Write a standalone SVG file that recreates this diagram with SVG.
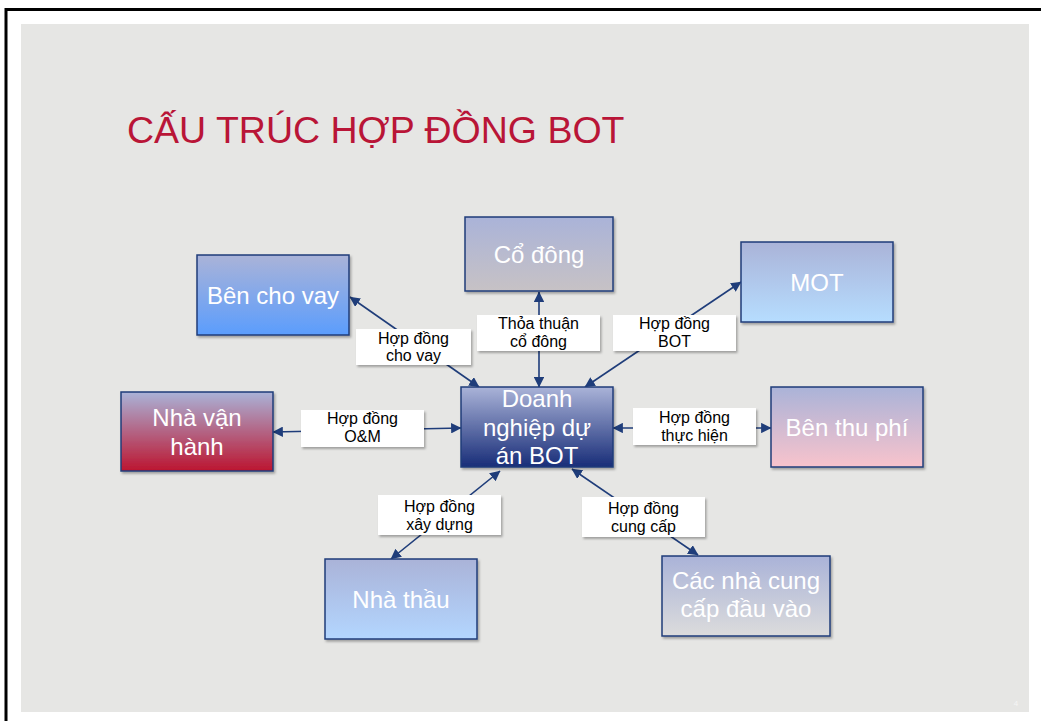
<svg xmlns="http://www.w3.org/2000/svg" width="1041" height="721" viewBox="0 0 1041 721">
  <defs>
    <style>
      .box { stroke: #1f3d7a; stroke-width: 1.5; filter: url(#shadow); }
      .ntext { font-family: "Liberation Sans", Arial, sans-serif; font-size: 24px; fill: #ffffff; text-anchor: middle; }
      .lbl { fill: #ffffff; filter: url(#shadow); }
      .ltext { font-family: "Liberation Sans", Arial, sans-serif; font-size: 16px; fill: #000000; text-anchor: middle; }
      .conn { stroke: #1f3d7a; stroke-width: 1.6; fill: none; marker-start: url(#arr); marker-end: url(#arr); }
    </style>
    <filter id="shadow" x="-10%" y="-10%" width="130%" height="140%">
      <feDropShadow dx="1.5" dy="2" stdDeviation="1" flood-color="#000" flood-opacity="0.3"/>
    </filter>
    <marker id="arr" viewBox="0 0 10 10" refX="9.5" refY="5" markerWidth="6.5" markerHeight="6.5" orient="auto-start-reverse" markerUnits="strokeWidth">
      <path d="M0,0 L10,5 L0,10 Z" fill="#1f3d7a"/>
    </marker>
    <linearGradient id="gLender" x1="0" y1="0" x2="0" y2="1">
      <stop offset="0" stop-color="#aab3d8"/><stop offset="1" stop-color="#5b9dfd"/>
    </linearGradient>
    <linearGradient id="gShare" x1="0" y1="0" x2="0" y2="1">
      <stop offset="0" stop-color="#aab3d8"/><stop offset="1" stop-color="#c7c2c5"/>
    </linearGradient>
    <linearGradient id="gMot" x1="0" y1="0" x2="0" y2="1">
      <stop offset="0" stop-color="#aab3d8"/><stop offset="1" stop-color="#b6ddff"/>
    </linearGradient>
    <linearGradient id="gOper" x1="0" y1="0" x2="0" y2="1">
      <stop offset="0" stop-color="#aab3d8"/><stop offset="1" stop-color="#bc1530"/>
    </linearGradient>
    <linearGradient id="gCore" x1="0" y1="0" x2="0" y2="1">
      <stop offset="0" stop-color="#aab3d8"/><stop offset="1" stop-color="#182d78"/>
    </linearGradient>
    <linearGradient id="gToll" x1="0" y1="0" x2="0" y2="1">
      <stop offset="0" stop-color="#aab3d8"/><stop offset="1" stop-color="#f8c3cc"/>
    </linearGradient>
    <linearGradient id="gContr" x1="0" y1="0" x2="0" y2="1">
      <stop offset="0" stop-color="#aab3d8"/><stop offset="1" stop-color="#b3d6ff"/>
    </linearGradient>
    <linearGradient id="gSupp" x1="0" y1="0" x2="0" y2="1">
      <stop offset="0" stop-color="#aab3d8"/><stop offset="1" stop-color="#dcdcdc"/>
    </linearGradient>
  </defs>

  <!-- page and frame -->
  <rect x="0" y="0" width="1041" height="721" fill="#ffffff"/>
  <rect x="21" y="24" width="1008" height="688" fill="#e6e6e4"/>
  <path d="M6,721 L6,9.5 L1041,9.5" fill="none" stroke="#000000" stroke-width="3"/>

  <text x="127" y="143" font-family="Liberation Sans, Arial, sans-serif" font-size="37.5" fill="#b91537">CẤU TRÚC HỢP ĐỒNG BOT</text>

  <!-- connectors -->
  <g id="connectors">
    <line class="conn" x1="479" y1="387" x2="350" y2="297"/>
    <line class="conn" x1="539" y1="387" x2="539" y2="292"/>
    <line class="conn" x1="585" y1="387" x2="741" y2="282"/>
    <line class="conn" x1="461" y1="428" x2="273" y2="432"/>
    <line class="conn" x1="613" y1="428" x2="771" y2="428"/>
    <line class="conn" x1="500" y1="471" x2="391" y2="559"/>
    <line class="conn" x1="572" y1="469" x2="698" y2="555"/>
  </g>

  <!-- connector labels -->
  <g id="label-loan">
    <rect class="lbl" x="356" y="329" width="115" height="36"/>
    <text class="ltext" x="413.5" y="344">Hợp đồng</text>
    <text class="ltext" x="413.5" y="361">cho vay</text>
  </g>
  <g id="label-shareholder">
    <rect class="lbl" x="477" y="315" width="123" height="36"/>
    <text class="ltext" x="538.5" y="329">Thỏa thuận</text>
    <text class="ltext" x="538.5" y="347">cổ đông</text>
  </g>
  <g id="label-bot">
    <rect class="lbl" x="613" y="315" width="123" height="36"/>
    <text class="ltext" x="674.5" y="329">Hợp đồng</text>
    <text class="ltext" x="674.5" y="347">BOT</text>
  </g>
  <g id="label-om">
    <rect class="lbl" x="301" y="410" width="123" height="37"/>
    <text class="ltext" x="362.5" y="424">Hợp đồng</text>
    <text class="ltext" x="362.5" y="442">O&amp;M</text>
  </g>
  <g id="label-perform">
    <rect class="lbl" x="633" y="408" width="123" height="37"/>
    <text class="ltext" x="694.5" y="423">Hợp đồng</text>
    <text class="ltext" x="694.5" y="441">thực hiện</text>
  </g>
  <g id="label-build">
    <rect class="lbl" x="378" y="495" width="123" height="40"/>
    <text class="ltext" x="439.5" y="512">Hợp đồng</text>
    <text class="ltext" x="439.5" y="530">xây dựng</text>
  </g>
  <g id="label-supply">
    <rect class="lbl" x="582" y="497" width="123" height="40"/>
    <text class="ltext" x="643.5" y="514">Hợp đồng</text>
    <text class="ltext" x="643.5" y="532">cung cấp</text>
  </g>

  <!-- nodes -->
  <g id="node-lender">
    <rect class="box" x="197" y="255" width="152" height="80" fill="url(#gLender)"/>
    <text class="ntext" x="273" y="304">Bên cho vay</text>
  </g>
  <g id="node-shareholders">
    <rect class="box" x="465" y="217" width="148" height="74" fill="url(#gShare)"/>
    <text class="ntext" x="539" y="263">Cổ đông</text>
  </g>
  <g id="node-mot">
    <rect class="box" x="741" y="242" width="152" height="80" fill="url(#gMot)"/>
    <text class="ntext" x="817" y="291">MOT</text>
  </g>
  <g id="node-operator">
    <rect class="box" x="121" y="392" width="152" height="79" fill="url(#gOper)"/>
    <text class="ntext" x="197" y="426">Nhà vận</text>
    <text class="ntext" x="197" y="455">hành</text>
  </g>
  <g id="node-company">
    <rect class="box" x="461" y="387" width="152" height="80" fill="url(#gCore)"/>
    <text class="ntext" x="537" y="407">Doanh</text>
    <text class="ntext" x="537" y="436">nghiệp dự</text>
    <text class="ntext" x="537" y="464">án BOT</text>
  </g>
  <g id="node-toll">
    <rect class="box" x="771" y="387" width="152" height="80" fill="url(#gToll)"/>
    <text class="ntext" x="847" y="436">Bên thu phí</text>
  </g>
  <g id="node-contractor">
    <rect class="box" x="325" y="559" width="152" height="80" fill="url(#gContr)"/>
    <text class="ntext" x="401" y="608">Nhà thầu</text>
  </g>
  <g id="node-suppliers">
    <rect class="box" x="662" y="556" width="168" height="80" fill="url(#gSupp)"/>
    <text class="ntext" x="746" y="589">Các nhà cung</text>
    <text class="ntext" x="746" y="617">cấp đầu vào</text>
  </g>

  <text x="1016" y="706" font-family="Liberation Sans, Arial, sans-serif" font-size="8" fill="#f5f5f5" text-anchor="middle">4</text>
</svg>
